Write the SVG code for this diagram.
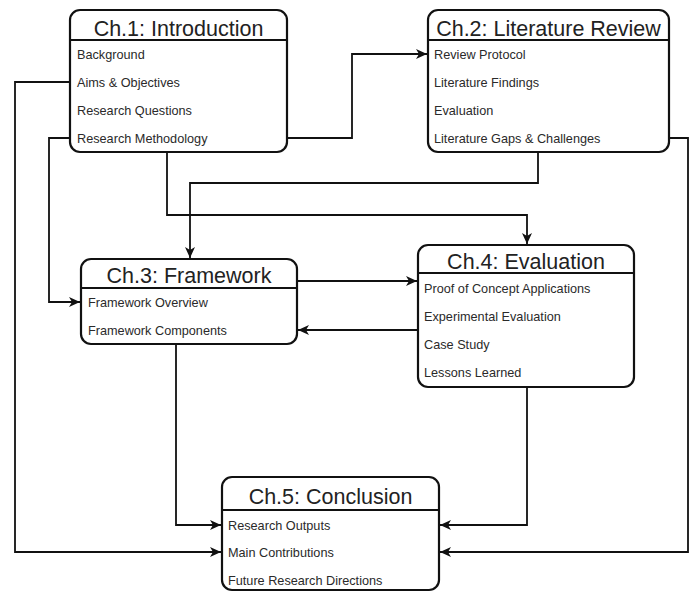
<svg xmlns="http://www.w3.org/2000/svg" width="695" height="592" viewBox="0 0 695 592">
  <style>
    .box { fill: #ffffff; stroke: #111111; stroke-width: 2.2; }
    .sep { stroke: #111111; stroke-width: 2; }
    .title { font-family: "Liberation Sans", Arial, sans-serif; font-size: 21.5px; fill: #222222; text-anchor: middle; }
    .item { font-family: "Liberation Sans", Arial, sans-serif; font-size: 12.7px; fill: #2a2a2a; }
    .link { fill: none; stroke: #111111; stroke-width: 1.8; }
  </style>
  <defs>
    <marker id="arrow" markerUnits="userSpaceOnUse" markerWidth="12" markerHeight="10" refX="11" refY="5" orient="auto">
      <path d="M0,0 L11,5 L0,10 L3,5 Z" fill="#111111"/>
    </marker>
  </defs>

  <!-- connectors -->
  <g id="connectors">
    <!-- Ch.1 -> Ch.2 -->
    <path class="link" d="M287,138 H352 V54 H427" marker-end="url(#arrow)"/>
    <!-- Ch.1 -> Ch.5 (Main Contributions) -->
    <path class="link" d="M70,82 H15 V552 H221" marker-end="url(#arrow)"/>
    <!-- Ch.1 -> Ch.3 (Framework Overview) -->
    <path class="link" d="M70,138 H49 V302 H80" marker-end="url(#arrow)"/>
    <!-- Ch.1 -> Ch.4 -->
    <path class="link" d="M167,152 V215 H527 V244" marker-end="url(#arrow)"/>
    <!-- Ch.2 -> Ch.3 -->
    <path class="link" d="M538,152 V183 H190 V258" marker-end="url(#arrow)"/>
    <!-- Ch.2 -> Ch.5 (Main Contributions) -->
    <path class="link" d="M669,138 H688 V552 H440" marker-end="url(#arrow)"/>
    <!-- Ch.3 -> Ch.4 -->
    <path class="link" d="M297,281 H417" marker-end="url(#arrow)"/>
    <!-- Ch.4 -> Ch.3 -->
    <path class="link" d="M418,330 H298" marker-end="url(#arrow)"/>
    <!-- Ch.3 -> Ch.5 (Research Outputs) -->
    <path class="link" d="M176,344 V525 H221" marker-end="url(#arrow)"/>
    <!-- Ch.4 -> Ch.5 (Research Outputs) -->
    <path class="link" d="M527,387 V525 H440" marker-end="url(#arrow)"/>
  </g>

  <!-- Ch.1 -->
  <g id="ch1">
    <rect class="box" x="70" y="10" width="217" height="142" rx="10"/>
    <line class="sep" x1="70" y1="40" x2="287" y2="40"/>
    <text class="title" x="178.5" y="36">Ch.1: Introduction</text>
    <text class="item" x="77" y="58.5">Background</text>
    <text class="item" x="77" y="86.5">Aims &amp; Objectives</text>
    <text class="item" x="77" y="114.5">Research Questions</text>
    <text class="item" x="77" y="142.5">Research Methodology</text>
  </g>

  <!-- Ch.2 -->
  <g id="ch2">
    <rect class="box" x="428" y="10" width="241" height="142" rx="10"/>
    <line class="sep" x1="428" y1="40" x2="669" y2="40"/>
    <text class="title" x="548.5" y="36">Ch.2: Literature Review</text>
    <text class="item" x="434" y="58.5">Review Protocol</text>
    <text class="item" x="434" y="86.5">Literature Findings</text>
    <text class="item" x="434" y="114.5">Evaluation</text>
    <text class="item" x="434" y="142.5">Literature Gaps &amp; Challenges</text>
  </g>

  <!-- Ch.3 -->
  <g id="ch3">
    <rect class="box" x="81" y="259" width="216" height="85" rx="10"/>
    <line class="sep" x1="81" y1="288" x2="297" y2="288"/>
    <text class="title" x="189" y="282.5">Ch.3: Framework</text>
    <text class="item" x="88" y="306.5">Framework Overview</text>
    <text class="item" x="88" y="334.5">Framework Components</text>
  </g>

  <!-- Ch.4 -->
  <g id="ch4">
    <rect class="box" x="418" y="245" width="216" height="142" rx="10"/>
    <line class="sep" x1="418" y1="273" x2="634" y2="273"/>
    <text class="title" x="526" y="268.5">Ch.4: Evaluation</text>
    <text class="item" x="424" y="292.5">Proof of Concept Applications</text>
    <text class="item" x="424" y="320.5">Experimental Evaluation</text>
    <text class="item" x="424" y="348.5">Case Study</text>
    <text class="item" x="424" y="376.5">Lessons Learned</text>
  </g>

  <!-- Ch.5 -->
  <g id="ch5">
    <rect class="box" x="222" y="477" width="217" height="113" rx="10"/>
    <line class="sep" x1="222" y1="510" x2="439" y2="510"/>
    <text class="title" x="330.5" y="503.5">Ch.5: Conclusion</text>
    <text class="item" x="228" y="529.5">Research Outputs</text>
    <text class="item" x="228" y="556.5">Main Contributions</text>
    <text class="item" x="228" y="584.5">Future Research Directions</text>
  </g>
</svg>
